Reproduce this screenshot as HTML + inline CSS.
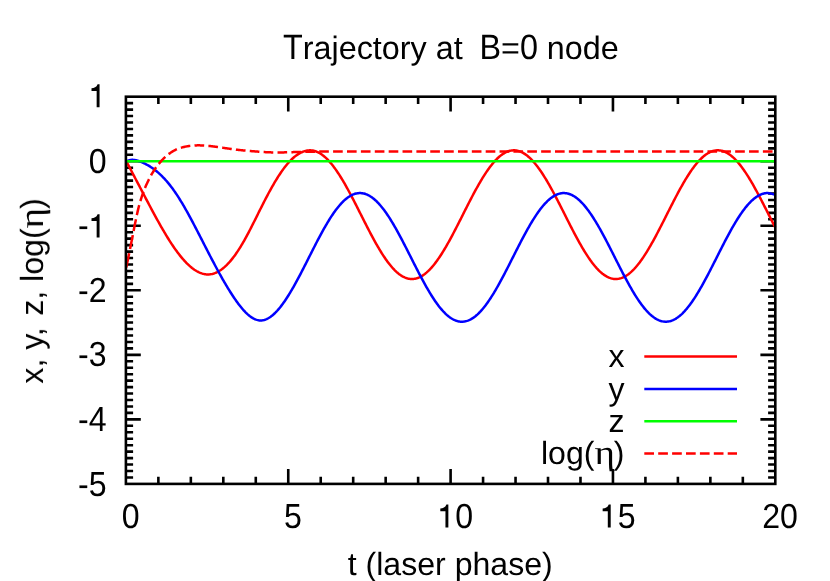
<!DOCTYPE html>
<html><head><meta charset="utf-8"><title>Trajectory at B=0 node</title>
<style>html,body{margin:0;padding:0;background:#fff;}body{width:830px;height:581px;overflow:hidden;font-family:"Liberation Sans",sans-serif;}</style>
</head><body>
<svg width="830" height="581" viewBox="0 0 830 581" style="display:block">
<rect width="830" height="581" fill="#fff"/>
<g stroke="#000" stroke-width="2.6" fill="none" stroke-linecap="butt">
<path d="M158.37,483.9 V476.70 M158.37,96.7 V103.90 M190.84,483.9 V476.70 M190.84,96.7 V103.90 M223.31,483.9 V476.70 M223.31,96.7 V103.90 M255.78,483.9 V476.70 M255.78,96.7 V103.90 M288.25,483.9 V469.00 M288.25,96.7 V111.60 M320.72,483.9 V476.70 M320.72,96.7 V103.90 M353.19,483.9 V476.70 M353.19,96.7 V103.90 M385.66,483.9 V476.70 M385.66,96.7 V103.90 M418.13,483.9 V476.70 M418.13,96.7 V103.90 M450.60,483.9 V469.00 M450.60,96.7 V111.60 M483.07,483.9 V476.70 M483.07,96.7 V103.90 M515.54,483.9 V476.70 M515.54,96.7 V103.90 M548.01,483.9 V476.70 M548.01,96.7 V103.90 M580.48,483.9 V476.70 M580.48,96.7 V103.90 M612.95,483.9 V469.00 M612.95,96.7 V111.60 M645.42,483.9 V476.70 M645.42,96.7 V103.90 M677.89,483.9 V476.70 M677.89,96.7 V103.90 M710.36,483.9 V476.70 M710.36,96.7 V103.90 M742.83,483.9 V476.70 M742.83,96.7 V103.90 M125.9,103.15 H133.10 M775.3,103.15 H768.10 M125.9,109.61 H133.10 M775.3,109.61 H768.10 M125.9,116.06 H133.10 M775.3,116.06 H768.10 M125.9,122.51 H133.10 M775.3,122.51 H768.10 M125.9,128.97 H133.10 M775.3,128.97 H768.10 M125.9,135.42 H133.10 M775.3,135.42 H768.10 M125.9,141.87 H133.10 M775.3,141.87 H768.10 M125.9,148.33 H133.10 M775.3,148.33 H768.10 M125.9,154.78 H133.10 M775.3,154.78 H768.10 M125.9,161.23 H140.80 M775.3,161.23 H760.40 M125.9,167.69 H133.10 M775.3,167.69 H768.10 M125.9,174.14 H133.10 M775.3,174.14 H768.10 M125.9,180.59 H133.10 M775.3,180.59 H768.10 M125.9,187.05 H133.10 M775.3,187.05 H768.10 M125.9,193.50 H133.10 M775.3,193.50 H768.10 M125.9,199.95 H133.10 M775.3,199.95 H768.10 M125.9,206.41 H133.10 M775.3,206.41 H768.10 M125.9,212.86 H133.10 M775.3,212.86 H768.10 M125.9,219.31 H133.10 M775.3,219.31 H768.10 M125.9,225.77 H140.80 M775.3,225.77 H760.40 M125.9,232.22 H133.10 M775.3,232.22 H768.10 M125.9,238.67 H133.10 M775.3,238.67 H768.10 M125.9,245.13 H133.10 M775.3,245.13 H768.10 M125.9,251.58 H133.10 M775.3,251.58 H768.10 M125.9,258.03 H133.10 M775.3,258.03 H768.10 M125.9,264.49 H133.10 M775.3,264.49 H768.10 M125.9,270.94 H133.10 M775.3,270.94 H768.10 M125.9,277.39 H133.10 M775.3,277.39 H768.10 M125.9,283.85 H133.10 M775.3,283.85 H768.10 M125.9,290.30 H140.80 M775.3,290.30 H760.40 M125.9,296.75 H133.10 M775.3,296.75 H768.10 M125.9,303.21 H133.10 M775.3,303.21 H768.10 M125.9,309.66 H133.10 M775.3,309.66 H768.10 M125.9,316.11 H133.10 M775.3,316.11 H768.10 M125.9,322.57 H133.10 M775.3,322.57 H768.10 M125.9,329.02 H133.10 M775.3,329.02 H768.10 M125.9,335.47 H133.10 M775.3,335.47 H768.10 M125.9,341.93 H133.10 M775.3,341.93 H768.10 M125.9,348.38 H133.10 M775.3,348.38 H768.10 M125.9,354.83 H140.80 M775.3,354.83 H760.40 M125.9,361.29 H133.10 M775.3,361.29 H768.10 M125.9,367.74 H133.10 M775.3,367.74 H768.10 M125.9,374.19 H133.10 M775.3,374.19 H768.10 M125.9,380.65 H133.10 M775.3,380.65 H768.10 M125.9,387.10 H133.10 M775.3,387.10 H768.10 M125.9,393.55 H133.10 M775.3,393.55 H768.10 M125.9,400.01 H133.10 M775.3,400.01 H768.10 M125.9,406.46 H133.10 M775.3,406.46 H768.10 M125.9,412.91 H133.10 M775.3,412.91 H768.10 M125.9,419.37 H140.80 M775.3,419.37 H760.40 M125.9,425.82 H133.10 M775.3,425.82 H768.10 M125.9,432.27 H133.10 M775.3,432.27 H768.10 M125.9,438.73 H133.10 M775.3,438.73 H768.10 M125.9,445.18 H133.10 M775.3,445.18 H768.10 M125.9,451.63 H133.10 M775.3,451.63 H768.10 M125.9,458.09 H133.10 M775.3,458.09 H768.10 M125.9,464.54 H133.10 M775.3,464.54 H768.10 M125.9,470.99 H133.10 M775.3,470.99 H768.10 M125.9,477.45 H133.10 M775.3,477.45 H768.10"/>
</g>
<g fill="none" stroke-width="2.5" stroke-linejoin="round" stroke-linecap="butt">
<path d="M126.30,161.23 L127.11,162.78 L127.92,164.32 L128.73,165.86 L129.54,167.41 L130.36,168.95 L131.17,170.49 L131.98,172.04 L132.79,173.58 L133.60,175.13 L134.41,176.67 L135.22,178.21 L136.03,179.76 L136.85,181.30 L137.66,182.85 L138.47,184.39 L139.28,185.94 L140.09,187.48 L140.90,189.03 L141.71,190.57 L142.53,192.12 L143.34,193.67 L144.15,195.21 L144.96,196.76 L145.77,198.30 L146.58,199.85 L147.39,201.39 L148.20,202.93 L149.01,204.47 L149.83,206.00 L150.64,207.53 L151.45,209.05 L152.26,210.57 L153.07,212.08 L153.88,213.59 L154.69,215.09 L155.50,216.58 L156.32,218.07 L157.13,219.54 L157.94,221.01 L158.75,222.47 L159.56,223.92 L160.37,225.35 L161.18,226.78 L162.00,228.20 L162.81,229.60 L163.62,230.99 L164.43,232.37 L165.24,233.73 L166.05,235.08 L166.86,236.42 L167.67,237.74 L168.49,239.04 L169.30,240.33 L170.11,241.60 L170.92,242.85 L171.73,244.09 L172.54,245.31 L173.35,246.51 L174.16,247.69 L174.97,248.85 L175.79,249.99 L176.60,251.10 L177.41,252.20 L178.22,253.28 L179.03,254.33 L179.84,255.37 L180.65,256.38 L181.47,257.36 L182.28,258.33 L183.09,259.27 L183.90,260.18 L184.71,261.07 L185.52,261.94 L186.33,262.78 L187.14,263.60 L187.96,264.39 L188.77,265.15 L189.58,265.88 L190.39,266.59 L191.20,267.27 L192.01,267.93 L192.82,268.55 L193.63,269.14 L194.44,269.71 L195.26,270.25 L196.07,270.75 L196.88,271.23 L197.69,271.67 L198.50,272.09 L199.31,272.47 L200.12,272.82 L200.94,273.13 L201.75,273.42 L202.56,273.67 L203.37,273.88 L204.18,274.07 L204.99,274.21 L205.80,274.33 L206.61,274.41 L207.43,274.45 L208.24,274.46 L209.05,274.42 L209.86,274.36 L210.67,274.25 L211.48,274.11 L212.29,273.94 L213.10,273.73 L213.92,273.48 L214.73,273.19 L215.54,272.87 L216.35,272.52 L217.16,272.13 L217.97,271.71 L218.78,271.25 L219.59,270.75 L220.41,270.23 L221.22,269.67 L222.03,269.07 L222.84,268.44 L223.65,267.78 L224.46,267.09 L225.27,266.36 L226.08,265.60 L226.89,264.80 L227.71,263.98 L228.52,263.12 L229.33,262.23 L230.14,261.31 L230.95,260.36 L231.76,259.38 L232.57,258.36 L233.38,257.32 L234.20,256.24 L235.01,255.14 L235.82,254.00 L236.63,252.83 L237.44,251.64 L238.25,250.41 L239.06,249.16 L239.88,247.88 L240.69,246.56 L241.50,245.22 L242.31,243.85 L243.12,242.46 L243.93,241.04 L244.74,239.59 L245.55,238.13 L246.37,236.64 L247.18,235.14 L247.99,233.61 L248.80,232.07 L249.61,230.52 L250.42,228.95 L251.23,227.37 L252.04,225.77 L252.86,224.17 L253.67,222.56 L254.48,220.95 L255.29,219.32 L256.10,217.70 L256.91,216.07 L257.72,214.44 L258.53,212.81 L259.35,211.18 L260.16,209.56 L260.97,207.94 L261.78,206.32 L262.59,204.72 L263.40,203.12 L264.21,201.53 L265.02,199.96 L265.83,198.39 L266.65,196.84 L267.46,195.31 L268.27,193.78 L269.08,192.28 L269.89,190.79 L270.70,189.32 L271.51,187.86 L272.32,186.43 L273.14,185.01 L273.95,183.61 L274.76,182.23 L275.57,180.88 L276.38,179.54 L277.19,178.23 L278.00,176.94 L278.81,175.68 L279.63,174.44 L280.44,173.22 L281.25,172.03 L282.06,170.87 L282.87,169.73 L283.68,168.62 L284.49,167.54 L285.31,166.49 L286.12,165.47 L286.93,164.48 L287.74,163.52 L288.55,162.59 L289.36,161.70 L290.17,160.83 L290.98,160.01 L291.80,159.21 L292.61,158.46 L293.42,157.73 L294.23,157.04 L295.04,156.38 L295.85,155.76 L296.66,155.18 L297.47,154.62 L298.29,154.10 L299.10,153.62 L299.91,153.16 L300.72,152.74 L301.53,152.36 L302.34,152.01 L303.15,151.69 L303.96,151.40 L304.77,151.15 L305.59,150.93 L306.40,150.74 L307.21,150.59 L308.02,150.48 L308.83,150.40 L309.64,150.36 L310.45,150.36 L311.26,150.39 L312.08,150.47 L312.89,150.59 L313.70,150.75 L314.51,150.95 L315.32,151.19 L316.13,151.48 L316.94,151.80 L317.75,152.16 L318.57,152.57 L319.38,153.01 L320.19,153.49 L321.00,154.01 L321.81,154.57 L322.62,155.16 L323.43,155.79 L324.25,156.46 L325.06,157.16 L325.87,157.90 L326.68,158.67 L327.49,159.48 L328.30,160.33 L329.11,161.20 L329.92,162.12 L330.74,163.06 L331.55,164.04 L332.36,165.04 L333.17,166.08 L333.98,167.15 L334.79,168.25 L335.60,169.38 L336.41,170.54 L337.23,171.72 L338.04,172.93 L338.85,174.17 L339.66,175.43 L340.47,176.72 L341.28,178.03 L342.09,179.36 L342.90,180.72 L343.72,182.10 L344.53,183.49 L345.34,184.91 L346.15,186.35 L346.96,187.80 L347.77,189.27 L348.58,190.75 L349.39,192.26 L350.21,193.77 L351.02,195.30 L351.83,196.84 L352.64,198.39 L353.45,199.95 L354.26,201.52 L355.07,203.10 L355.88,204.68 L356.70,206.28 L357.51,207.87 L358.32,209.47 L359.13,211.08 L359.94,212.69 L360.75,214.29 L361.56,215.90 L362.37,217.51 L363.19,219.12 L364.00,220.72 L364.81,222.32 L365.62,223.91 L366.43,225.50 L367.24,227.08 L368.05,228.66 L368.86,230.22 L369.68,231.78 L370.49,233.32 L371.30,234.86 L372.11,236.38 L372.92,237.89 L373.73,239.38 L374.54,240.86 L375.35,242.32 L376.17,243.76 L376.98,245.19 L377.79,246.59 L378.60,247.98 L379.41,249.34 L380.22,250.69 L381.03,252.01 L381.84,253.31 L382.66,254.58 L383.47,255.83 L384.28,257.05 L385.09,258.25 L385.90,259.42 L386.71,260.56 L387.52,261.67 L388.33,262.76 L389.14,263.81 L389.96,264.83 L390.77,265.82 L391.58,266.78 L392.39,267.71 L393.20,268.60 L394.01,269.46 L394.82,270.29 L395.64,271.08 L396.45,271.84 L397.26,272.56 L398.07,273.24 L398.88,273.89 L399.69,274.50 L400.50,275.07 L401.31,275.61 L402.12,276.10 L402.94,276.56 L403.75,276.98 L404.56,277.36 L405.37,277.70 L406.18,278.01 L406.99,278.27 L407.80,278.49 L408.62,278.67 L409.43,278.82 L410.24,278.92 L411.05,278.98 L411.86,279.01 L412.67,278.99 L413.48,278.93 L414.29,278.83 L415.11,278.69 L415.92,278.52 L416.73,278.30 L417.54,278.04 L418.35,277.74 L419.16,277.41 L419.97,277.03 L420.78,276.62 L421.59,276.16 L422.41,275.67 L423.22,275.14 L424.03,274.57 L424.84,273.97 L425.65,273.33 L426.46,272.65 L427.27,271.93 L428.09,271.18 L428.90,270.39 L429.71,269.57 L430.52,268.72 L431.33,267.83 L432.14,266.90 L432.95,265.95 L433.76,264.96 L434.57,263.94 L435.39,262.89 L436.20,261.81 L437.01,260.70 L437.82,259.57 L438.63,258.40 L439.44,257.21 L440.25,255.99 L441.07,254.74 L441.88,253.47 L442.69,252.18 L443.50,250.86 L444.31,249.52 L445.12,248.15 L445.93,246.77 L446.74,245.37 L447.56,243.94 L448.37,242.50 L449.18,241.04 L449.99,239.57 L450.80,238.08 L451.61,236.57 L452.42,235.05 L453.23,233.52 L454.05,231.98 L454.86,230.42 L455.67,228.86 L456.48,227.28 L457.29,225.70 L458.10,224.12 L458.91,222.52 L459.72,220.92 L460.54,219.32 L461.35,217.71 L462.16,216.11 L462.97,214.50 L463.78,212.89 L464.59,211.28 L465.40,209.68 L466.21,208.08 L467.03,206.48 L467.84,204.89 L468.65,203.30 L469.46,201.72 L470.27,200.15 L471.08,198.59 L471.89,197.03 L472.70,195.49 L473.52,193.96 L474.33,192.45 L475.14,190.94 L475.95,189.46 L476.76,187.99 L477.57,186.53 L478.38,185.09 L479.19,183.67 L480.01,182.27 L480.82,180.89 L481.63,179.54 L482.44,178.20 L483.25,176.89 L484.06,175.60 L484.87,174.33 L485.68,173.09 L486.50,171.88 L487.31,170.69 L488.12,169.53 L488.93,168.40 L489.74,167.29 L490.55,166.22 L491.36,165.18 L492.17,164.16 L492.99,163.18 L493.80,162.23 L494.61,161.32 L495.42,160.44 L496.23,159.59 L497.04,158.77 L497.85,157.99 L498.66,157.25 L499.48,156.54 L500.29,155.87 L501.10,155.24 L501.91,154.64 L502.72,154.08 L503.53,153.56 L504.34,153.07 L505.15,152.63 L505.97,152.22 L506.78,151.85 L507.59,151.52 L508.40,151.24 L509.21,150.99 L510.02,150.78 L510.83,150.61 L511.64,150.48 L512.46,150.39 L513.27,150.34 L514.08,150.33 L514.89,150.36 L515.70,150.43 L516.51,150.54 L517.32,150.69 L518.13,150.89 L518.95,151.12 L519.76,151.39 L520.57,151.70 L521.38,152.05 L522.19,152.44 L523.00,152.87 L523.81,153.33 L524.62,153.84 L525.44,154.38 L526.25,154.96 L527.06,155.58 L527.87,156.23 L528.68,156.93 L529.49,157.65 L530.30,158.42 L531.11,159.21 L531.92,160.05 L532.74,160.91 L533.55,161.81 L534.36,162.75 L535.17,163.71 L535.98,164.71 L536.79,165.74 L537.60,166.80 L538.42,167.89 L539.23,169.01 L540.04,170.16 L540.85,171.33 L541.66,172.53 L542.47,173.76 L543.28,175.02 L544.09,176.30 L544.90,177.60 L545.72,178.93 L546.53,180.27 L547.34,181.64 L548.15,183.03 L548.96,184.44 L549.77,185.87 L550.58,187.32 L551.40,188.79 L552.21,190.27 L553.02,191.76 L553.83,193.27 L554.64,194.80 L555.45,196.33 L556.26,197.88 L557.07,199.44 L557.88,201.00 L558.70,202.58 L559.51,204.16 L560.32,205.75 L561.13,207.35 L561.94,208.95 L562.75,210.55 L563.56,212.16 L564.38,213.77 L565.19,215.38 L566.00,216.98 L566.81,218.59 L567.62,220.19 L568.43,221.80 L569.24,223.39 L570.05,224.98 L570.87,226.57 L571.68,228.14 L572.49,229.71 L573.30,231.27 L574.11,232.82 L574.92,234.36 L575.73,235.88 L576.54,237.39 L577.36,238.89 L578.17,240.37 L578.98,241.84 L579.79,243.29 L580.60,244.72 L581.41,246.13 L582.22,247.53 L583.03,248.90 L583.85,250.25 L584.66,251.58 L585.47,252.88 L586.28,254.17 L587.09,255.42 L587.90,256.66 L588.71,257.86 L589.52,259.04 L590.34,260.19 L591.15,261.31 L591.96,262.41 L592.77,263.47 L593.58,264.50 L594.39,265.50 L595.20,266.47 L596.01,267.41 L596.82,268.32 L597.64,269.19 L598.45,270.02 L599.26,270.83 L600.07,271.59 L600.88,272.32 L601.69,273.02 L602.50,273.68 L603.32,274.30 L604.13,274.89 L604.94,275.43 L605.75,275.94 L606.56,276.42 L607.37,276.85 L608.18,277.24 L608.99,277.60 L609.80,277.91 L610.62,278.19 L611.43,278.42 L612.24,278.62 L613.05,278.78 L613.86,278.89 L614.67,278.97 L615.48,279.00 L616.30,279.00 L617.11,278.95 L617.92,278.87 L618.73,278.74 L619.54,278.58 L620.35,278.38 L621.16,278.13 L621.97,277.85 L622.78,277.52 L623.60,277.16 L624.41,276.76 L625.22,276.32 L626.03,275.84 L626.84,275.32 L627.65,274.76 L628.46,274.17 L629.27,273.54 L630.09,272.87 L630.90,272.17 L631.71,271.43 L632.52,270.65 L633.33,269.84 L634.14,269.00 L634.95,268.12 L635.76,267.21 L636.58,266.26 L637.39,265.29 L638.20,264.28 L639.01,263.24 L639.82,262.17 L640.63,261.07 L641.44,259.94 L642.25,258.78 L643.07,257.60 L643.88,256.39 L644.69,255.15 L645.50,253.89 L646.31,252.60 L647.12,251.29 L647.93,249.96 L648.75,248.60 L649.56,247.22 L650.37,245.83 L651.18,244.41 L651.99,242.97 L652.80,241.52 L653.61,240.05 L654.42,238.57 L655.24,237.07 L656.05,235.55 L656.86,234.02 L657.67,232.48 L658.48,230.93 L659.29,229.37 L660.10,227.80 L660.91,226.22 L661.72,224.64 L662.54,223.04 L663.35,221.45 L664.16,219.85 L664.97,218.24 L665.78,216.63 L666.59,215.03 L667.40,213.42 L668.21,211.81 L669.03,210.20 L669.84,208.60 L670.65,207.00 L671.46,205.41 L672.27,203.82 L673.08,202.24 L673.89,200.66 L674.71,199.10 L675.52,197.54 L676.33,196.00 L677.14,194.46 L677.95,192.94 L678.76,191.44 L679.57,189.94 L680.38,188.47 L681.20,187.01 L682.01,185.56 L682.82,184.14 L683.63,182.73 L684.44,181.34 L685.25,179.98 L686.06,178.63 L686.87,177.31 L687.68,176.02 L688.50,174.74 L689.31,173.49 L690.12,172.27 L690.93,171.07 L691.74,169.90 L692.55,168.76 L693.36,167.65 L694.17,166.57 L694.99,165.51 L695.80,164.49 L696.61,163.50 L697.42,162.54 L698.23,161.62 L699.04,160.72 L699.85,159.86 L700.66,159.04 L701.48,158.25 L702.29,157.49 L703.10,156.77 L703.91,156.09 L704.72,155.44 L705.53,154.83 L706.34,154.26 L707.16,153.72 L707.97,153.23 L708.78,152.77 L709.59,152.35 L710.40,151.97 L711.21,151.63 L712.02,151.33 L712.83,151.06 L713.64,150.84 L714.46,150.66 L715.27,150.52 L716.08,150.41 L716.89,150.35 L717.70,150.33 L718.51,150.35 L719.32,150.40 L720.13,150.50 L720.95,150.64 L721.76,150.82 L722.57,151.04 L723.38,151.30 L724.19,151.59 L725.00,151.93 L725.81,152.31 L726.62,152.72 L727.44,153.17 L728.25,153.67 L729.06,154.20 L729.87,154.77 L730.68,155.37 L731.49,156.02 L732.30,156.69 L733.11,157.41 L733.93,158.16 L734.74,158.95 L735.55,159.77 L736.36,160.63 L737.17,161.52 L737.98,162.44 L738.79,163.39 L739.61,164.38 L740.42,165.40 L741.23,166.45 L742.04,167.53 L742.85,168.64 L743.66,169.78 L744.47,170.94 L745.28,172.14 L746.10,173.36 L746.91,174.60 L747.72,175.88 L748.53,177.17 L749.34,178.49 L750.15,179.83 L750.96,181.19 L751.77,182.58 L752.59,183.98 L753.40,185.40 L754.21,186.84 L755.02,188.30 L755.83,189.78 L756.64,191.27 L757.45,192.77 L758.26,194.29 L759.07,195.83 L759.89,197.37 L760.70,198.93 L761.51,200.50 L762.32,202.07 L763.13,203.65 L763.94,205.24 L764.75,206.84 L765.57,208.43 L766.38,210.03 L767.19,211.63 L768.00,213.23 L768.81,214.83 L769.62,216.43 L770.43,218.03 L771.24,219.63 L772.06,221.23 L772.87,222.83 L773.68,224.43 L774.49,226.03 L775.30,227.63" stroke="#ff0000"/>
<path d="M126.30,161.23 L127.11,160.96 L127.92,160.70 L128.73,160.46 L129.54,160.24 L130.36,160.07 L131.17,159.94 L131.98,159.87 L132.79,159.86 L133.60,159.89 L134.41,159.97 L135.22,160.10 L136.03,160.27 L136.85,160.47 L137.66,160.70 L138.47,160.96 L139.28,161.25 L140.09,161.55 L140.90,161.88 L141.71,162.22 L142.53,162.57 L143.34,162.94 L144.15,163.32 L144.96,163.71 L145.77,164.12 L146.58,164.55 L147.39,164.99 L148.20,165.45 L149.01,165.93 L149.83,166.43 L150.64,166.94 L151.45,167.47 L152.26,168.02 L153.07,168.59 L153.88,169.18 L154.69,169.79 L155.50,170.41 L156.32,171.06 L157.13,171.73 L157.94,172.42 L158.75,173.14 L159.56,173.87 L160.37,174.62 L161.18,175.40 L162.00,176.20 L162.81,177.02 L163.62,177.86 L164.43,178.72 L165.24,179.61 L166.05,180.51 L166.86,181.44 L167.67,182.40 L168.49,183.37 L169.30,184.37 L170.11,185.39 L170.92,186.44 L171.73,187.51 L172.54,188.60 L173.35,189.71 L174.16,190.85 L174.97,192.02 L175.79,193.20 L176.60,194.41 L177.41,195.65 L178.22,196.90 L179.03,198.18 L179.84,199.48 L180.65,200.79 L181.47,202.13 L182.28,203.48 L183.09,204.86 L183.90,206.24 L184.71,207.65 L185.52,209.07 L186.33,210.51 L187.14,211.96 L187.96,213.42 L188.77,214.90 L189.58,216.39 L190.39,217.89 L191.20,219.40 L192.01,220.92 L192.82,222.45 L193.63,223.99 L194.44,225.53 L195.26,227.09 L196.07,228.65 L196.88,230.21 L197.69,231.78 L198.50,233.36 L199.31,234.94 L200.12,236.52 L200.94,238.10 L201.75,239.69 L202.56,241.27 L203.37,242.86 L204.18,244.45 L204.99,246.03 L205.80,247.61 L206.61,249.19 L207.43,250.77 L208.24,252.34 L209.05,253.91 L209.86,255.48 L210.67,257.03 L211.48,258.59 L212.29,260.14 L213.10,261.68 L213.92,263.21 L214.73,264.74 L215.54,266.26 L216.35,267.77 L217.16,269.28 L217.97,270.77 L218.78,272.25 L219.59,273.73 L220.41,275.19 L221.22,276.64 L222.03,278.08 L222.84,279.51 L223.65,280.93 L224.46,282.33 L225.27,283.72 L226.08,285.09 L226.89,286.45 L227.71,287.80 L228.52,289.13 L229.33,290.44 L230.14,291.74 L230.95,293.02 L231.76,294.28 L232.57,295.53 L233.38,296.75 L234.20,297.96 L235.01,299.15 L235.82,300.32 L236.63,301.46 L237.44,302.58 L238.25,303.68 L239.06,304.75 L239.88,305.80 L240.69,306.82 L241.50,307.81 L242.31,308.77 L243.12,309.70 L243.93,310.60 L244.74,311.47 L245.55,312.31 L246.37,313.11 L247.18,313.87 L247.99,314.60 L248.80,315.29 L249.61,315.94 L250.42,316.56 L251.23,317.13 L252.04,317.66 L252.86,318.15 L253.67,318.59 L254.48,318.99 L255.29,319.34 L256.10,319.65 L256.91,319.91 L257.72,320.12 L258.53,320.28 L259.35,320.39 L260.16,320.44 L260.97,320.45 L261.78,320.40 L262.59,320.30 L263.40,320.15 L264.21,319.96 L265.02,319.71 L265.83,319.42 L266.65,319.08 L267.46,318.69 L268.27,318.26 L269.08,317.78 L269.89,317.26 L270.70,316.70 L271.51,316.10 L272.32,315.45 L273.14,314.77 L273.95,314.04 L274.76,313.28 L275.57,312.48 L276.38,311.64 L277.19,310.77 L278.00,309.86 L278.81,308.92 L279.63,307.94 L280.44,306.93 L281.25,305.89 L282.06,304.82 L282.87,303.72 L283.68,302.59 L284.49,301.43 L285.31,300.24 L286.12,299.03 L286.93,297.79 L287.74,296.52 L288.55,295.23 L289.36,293.92 L290.17,292.59 L290.98,291.23 L291.80,289.85 L292.61,288.45 L293.42,287.04 L294.23,285.60 L295.04,284.15 L295.85,282.68 L296.66,281.19 L297.47,279.69 L298.29,278.18 L299.10,276.65 L299.91,275.11 L300.72,273.56 L301.53,272.00 L302.34,270.43 L303.15,268.85 L303.96,267.27 L304.77,265.67 L305.59,264.08 L306.40,262.48 L307.21,260.87 L308.02,259.27 L308.83,257.66 L309.64,256.05 L310.45,254.44 L311.26,252.84 L312.08,251.24 L312.89,249.64 L313.70,248.05 L314.51,246.46 L315.32,244.88 L316.13,243.30 L316.94,241.74 L317.75,240.19 L318.57,238.64 L319.38,237.11 L320.19,235.59 L321.00,234.09 L321.81,232.59 L322.62,231.12 L323.43,229.66 L324.25,228.22 L325.06,226.80 L325.87,225.39 L326.68,224.01 L327.49,222.64 L328.30,221.30 L329.11,219.98 L329.92,218.69 L330.74,217.41 L331.55,216.17 L332.36,214.95 L333.17,213.75 L333.98,212.58 L334.79,211.45 L335.60,210.34 L336.41,209.25 L337.23,208.20 L338.04,207.18 L338.85,206.19 L339.66,205.24 L340.47,204.31 L341.28,203.42 L342.09,202.56 L342.90,201.74 L343.72,200.95 L344.53,200.20 L345.34,199.48 L346.15,198.80 L346.96,198.16 L347.77,197.55 L348.58,196.98 L349.39,196.45 L350.21,195.95 L351.02,195.50 L351.83,195.08 L352.64,194.70 L353.45,194.36 L354.26,194.06 L355.07,193.80 L355.88,193.58 L356.70,193.40 L357.51,193.26 L358.32,193.16 L359.13,193.10 L359.94,193.08 L360.75,193.10 L361.56,193.16 L362.37,193.26 L363.19,193.40 L364.00,193.58 L364.81,193.80 L365.62,194.06 L366.43,194.36 L367.24,194.70 L368.05,195.08 L368.86,195.50 L369.68,195.95 L370.49,196.45 L371.30,196.98 L372.11,197.55 L372.92,198.16 L373.73,198.80 L374.54,199.48 L375.35,200.20 L376.17,200.95 L376.98,201.74 L377.79,202.56 L378.60,203.42 L379.41,204.31 L380.22,205.24 L381.03,206.19 L381.84,207.18 L382.66,208.20 L383.47,209.25 L384.28,210.34 L385.09,211.45 L385.90,212.58 L386.71,213.75 L387.52,214.95 L388.33,216.17 L389.14,217.41 L389.96,218.69 L390.77,219.98 L391.58,221.30 L392.39,222.64 L393.20,224.01 L394.01,225.39 L394.82,226.79 L395.64,228.22 L396.45,229.66 L397.26,231.12 L398.07,232.59 L398.88,234.09 L399.69,235.59 L400.50,237.11 L401.31,238.64 L402.12,240.19 L402.94,241.74 L403.75,243.30 L404.56,244.88 L405.37,246.46 L406.18,248.05 L406.99,249.64 L407.80,251.24 L408.62,252.84 L409.43,254.44 L410.24,256.05 L411.05,257.66 L411.86,259.27 L412.67,260.87 L413.48,262.48 L414.29,264.08 L415.11,265.67 L415.92,267.27 L416.73,268.85 L417.54,270.43 L418.35,272.00 L419.16,273.56 L419.97,275.11 L420.78,276.65 L421.59,278.18 L422.41,279.69 L423.22,281.19 L424.03,282.68 L424.84,284.15 L425.65,285.60 L426.46,287.04 L427.27,288.46 L428.09,289.85 L428.90,291.23 L429.71,292.59 L430.52,293.92 L431.33,295.23 L432.14,296.52 L432.95,297.78 L433.76,299.02 L434.57,300.23 L435.39,301.42 L436.20,302.58 L437.01,303.71 L437.82,304.81 L438.63,305.88 L439.44,306.92 L440.25,307.93 L441.07,308.91 L441.88,309.85 L442.69,310.77 L443.50,311.65 L444.31,312.49 L445.12,313.30 L445.93,314.08 L446.74,314.82 L447.56,315.53 L448.37,316.20 L449.18,316.83 L449.99,317.42 L450.80,317.98 L451.61,318.50 L452.42,318.98 L453.23,319.42 L454.05,319.83 L454.86,320.19 L455.67,320.52 L456.48,320.80 L457.29,321.05 L458.10,321.26 L458.91,321.43 L459.72,321.55 L460.54,321.64 L461.35,321.69 L462.16,321.69 L462.97,321.66 L463.78,321.59 L464.59,321.47 L465.40,321.32 L466.21,321.12 L467.03,320.89 L467.84,320.62 L468.65,320.30 L469.46,319.95 L470.27,319.56 L471.08,319.13 L471.89,318.66 L472.70,318.15 L473.52,317.61 L474.33,317.03 L475.14,316.41 L475.95,315.75 L476.76,315.06 L477.57,314.33 L478.38,313.56 L479.19,312.76 L480.01,311.93 L480.82,311.06 L481.63,310.16 L482.44,309.22 L483.25,308.25 L484.06,307.25 L484.87,306.22 L485.68,305.16 L486.50,304.07 L487.31,302.95 L488.12,301.80 L488.93,300.63 L489.74,299.42 L490.55,298.19 L491.36,296.94 L492.17,295.66 L492.99,294.35 L493.80,293.03 L494.61,291.68 L495.42,290.31 L496.23,288.92 L497.04,287.50 L497.85,286.07 L498.66,284.63 L499.48,283.16 L500.29,281.68 L501.10,280.19 L501.91,278.68 L502.72,277.15 L503.53,275.62 L504.34,274.07 L505.15,272.51 L505.97,270.94 L506.78,269.37 L507.59,267.78 L508.40,266.20 L509.21,264.60 L510.02,263.00 L510.83,261.40 L511.64,259.79 L512.46,258.18 L513.27,256.58 L514.08,254.97 L514.89,253.36 L515.70,251.76 L516.51,250.16 L517.32,248.57 L518.13,246.98 L518.95,245.39 L519.76,243.82 L520.57,242.25 L521.38,240.69 L522.19,239.15 L523.00,237.61 L523.81,236.09 L524.62,234.58 L525.44,233.08 L526.25,231.60 L527.06,230.14 L527.87,228.69 L528.68,227.26 L529.49,225.85 L530.30,224.46 L531.11,223.09 L531.92,221.74 L532.74,220.41 L533.55,219.11 L534.36,217.83 L535.17,216.57 L535.98,215.34 L536.79,214.14 L537.60,212.96 L538.42,211.82 L539.23,210.70 L540.04,209.60 L540.85,208.54 L541.66,207.51 L542.47,206.51 L543.28,205.55 L544.09,204.61 L544.90,203.71 L545.72,202.84 L546.53,202.01 L547.34,201.21 L548.15,200.44 L548.96,199.71 L549.77,199.02 L550.58,198.36 L551.40,197.74 L552.21,197.16 L553.02,196.62 L553.83,196.11 L554.64,195.64 L555.45,195.21 L556.26,194.82 L557.07,194.47 L557.88,194.16 L558.70,193.88 L559.51,193.65 L560.32,193.46 L561.13,193.30 L561.94,193.19 L562.75,193.12 L563.56,193.08 L564.38,193.09 L565.19,193.14 L566.00,193.22 L566.81,193.35 L567.62,193.52 L568.43,193.73 L569.24,193.97 L570.05,194.26 L570.87,194.59 L571.68,194.95 L572.49,195.36 L573.30,195.80 L574.11,196.28 L574.92,196.80 L575.73,197.36 L576.54,197.95 L577.36,198.59 L578.17,199.26 L578.98,199.96 L579.79,200.70 L580.60,201.48 L581.41,202.29 L582.22,203.14 L583.03,204.02 L583.85,204.93 L584.66,205.88 L585.47,206.86 L586.28,207.87 L587.09,208.91 L587.90,209.98 L588.71,211.08 L589.52,212.21 L590.34,213.37 L591.15,214.55 L591.96,215.76 L592.77,217.00 L593.58,218.27 L594.39,219.55 L595.20,220.87 L596.01,222.20 L596.82,223.56 L597.64,224.93 L598.45,226.33 L599.26,227.75 L600.07,229.19 L600.88,230.64 L601.69,232.11 L602.50,233.60 L603.32,235.10 L604.13,236.61 L604.94,238.14 L605.75,239.68 L606.56,241.23 L607.37,242.79 L608.18,244.36 L608.99,245.94 L609.80,247.53 L610.62,249.12 L611.43,250.71 L612.24,252.31 L613.05,253.92 L613.86,255.52 L614.67,257.13 L615.48,258.74 L616.30,260.35 L617.11,261.95 L617.92,263.55 L618.73,265.15 L619.54,266.74 L620.35,268.33 L621.16,269.91 L621.97,271.49 L622.78,273.05 L623.60,274.60 L624.41,276.15 L625.22,277.68 L626.03,279.20 L626.84,280.70 L627.65,282.19 L628.46,283.67 L629.27,285.13 L630.09,286.57 L630.90,287.99 L631.71,289.40 L632.52,290.78 L633.33,292.15 L634.14,293.49 L634.95,294.81 L635.76,296.10 L636.58,297.37 L637.39,298.62 L638.20,299.84 L639.01,301.03 L639.82,302.20 L640.63,303.34 L641.44,304.45 L642.25,305.53 L643.07,306.58 L643.88,307.60 L644.69,308.59 L645.50,309.55 L646.31,310.47 L647.12,311.36 L647.93,312.22 L648.75,313.04 L649.56,313.83 L650.37,314.58 L651.18,315.30 L651.99,315.98 L652.80,316.62 L653.61,317.23 L654.42,317.80 L655.24,318.33 L656.05,318.83 L656.86,319.28 L657.67,319.70 L658.48,320.08 L659.29,320.42 L660.10,320.72 L660.91,320.98 L661.72,321.20 L662.54,321.38 L663.35,321.52 L664.16,321.62 L664.97,321.68 L665.78,321.69 L666.59,321.67 L667.40,321.61 L668.21,321.51 L669.03,321.37 L669.84,321.19 L670.65,320.97 L671.46,320.71 L672.27,320.41 L673.08,320.07 L673.89,319.69 L674.71,319.27 L675.52,318.82 L676.33,318.32 L677.14,317.79 L677.95,317.22 L678.76,316.61 L679.57,315.97 L680.38,315.29 L681.20,314.57 L682.01,313.82 L682.82,313.03 L683.63,312.20 L684.44,311.35 L685.25,310.46 L686.06,309.53 L686.87,308.57 L687.68,307.58 L688.50,306.56 L689.31,305.51 L690.12,304.43 L690.93,303.32 L691.74,302.18 L692.55,301.01 L693.36,299.82 L694.17,298.60 L694.99,297.35 L695.80,296.08 L696.61,294.78 L697.42,293.46 L698.23,292.12 L699.04,290.76 L699.85,289.37 L700.66,287.97 L701.48,286.54 L702.29,285.10 L703.10,283.64 L703.91,282.17 L704.72,280.68 L705.53,279.17 L706.34,277.65 L707.16,276.12 L707.97,274.58 L708.78,273.02 L709.59,271.46 L710.40,269.88 L711.21,268.30 L712.02,266.72 L712.83,265.12 L713.64,263.52 L714.46,261.92 L715.27,260.32 L716.08,258.71 L716.89,257.10 L717.70,255.50 L718.51,253.89 L719.32,252.29 L720.13,250.68 L720.95,249.09 L721.76,247.50 L722.57,245.91 L723.38,244.33 L724.19,242.76 L725.00,241.20 L725.81,239.65 L726.62,238.11 L727.44,236.58 L728.25,235.07 L729.06,233.57 L729.87,232.08 L730.68,230.61 L731.49,229.16 L732.30,227.72 L733.11,226.31 L733.93,224.91 L734.74,223.53 L735.55,222.18 L736.36,220.84 L737.17,219.53 L737.98,218.24 L738.79,216.98 L739.61,215.74 L740.42,214.53 L741.23,213.35 L742.04,212.19 L742.85,211.06 L743.66,209.96 L744.47,208.89 L745.28,207.85 L746.10,206.84 L746.91,205.86 L747.72,204.91 L748.53,204.00 L749.34,203.12 L750.15,202.27 L750.96,201.47 L751.77,200.69 L752.59,199.95 L753.40,199.25 L754.21,198.59 L755.02,197.96 L755.83,197.36 L756.64,196.81 L757.45,196.28 L758.26,195.80 L759.07,195.35 L759.89,194.94 L760.70,194.56 L761.51,194.22 L762.32,193.93 L763.13,193.67 L763.94,193.46 L764.75,193.30 L765.57,193.18 L766.38,193.11 L767.19,193.09 L768.00,193.12 L768.81,193.19 L769.62,193.31 L770.43,193.46 L771.24,193.64 L772.06,193.85 L772.87,194.07 L773.68,194.32 L774.49,194.57 L775.30,194.83" stroke="#0000ff"/>
<path d="M125.90,161.23 L775.30,161.23" stroke="#00ff00"/>
<path d="M126.30,267.39 L126.38,266.99 L127.03,263.82 L127.68,260.64 L128.33,257.45 L128.98,254.25 L129.19,253.18 M130.03,249.06 L130.03,249.02 L130.68,245.78 L131.33,242.52 L131.98,239.23 L132.63,235.90 L132.78,235.13 M133.59,230.99 L133.60,230.91 L134.25,227.61 L134.90,224.35 L135.55,221.14 L135.94,219.23 M136.82,215.11 L136.85,214.99 L137.50,212.11 L138.14,209.38 L138.79,206.79 L139.23,205.10 M140.38,201.05 L140.42,200.93 L141.06,198.81 L141.71,196.79 L142.36,194.90 L143.01,193.09 L143.45,191.90 M145.02,187.95 L145.04,187.90 L145.69,186.36 L146.34,184.87 L146.99,183.43 L147.64,182.02 L148.28,180.66 L148.93,179.35 L149.02,179.18 M151.01,175.43 L151.04,175.37 L151.69,174.22 L152.34,173.11 L152.99,172.04 L153.64,171.00 L154.29,170.00 L154.94,169.03 L155.59,168.08 L156.16,167.27 M158.74,163.90 L158.75,163.89 L159.40,163.10 L160.05,162.34 L160.70,161.60 L161.35,160.88 L162.00,160.17 L162.64,159.50 L163.29,158.83 L163.94,158.19 L164.59,157.57 L165.24,156.96 L165.34,156.87 M168.59,154.14 L168.65,154.10 L169.30,153.61 L169.95,153.15 L170.59,152.70 L171.24,152.27 L171.89,151.85 L172.54,151.45 L173.19,151.08 L173.84,150.72 L174.49,150.37 L175.14,150.04 L175.79,149.73 L176.44,149.44 L176.88,149.24 M180.86,147.79 L180.90,147.78 L181.55,147.58 L182.20,147.40 L182.84,147.23 L183.49,147.07 L184.14,146.91 L184.79,146.77 L185.44,146.63 L186.09,146.50 L186.74,146.38 L187.39,146.26 L188.04,146.16 L188.69,146.06 L189.33,145.97 L189.98,145.88 L190.30,145.84 M194.53,145.47 L194.61,145.46 L195.26,145.43 L195.91,145.41 L196.55,145.39 L197.20,145.37 L197.85,145.36 L198.50,145.36 L199.15,145.36 L199.80,145.37 L200.45,145.38 L201.10,145.40 L201.75,145.42 L202.40,145.45 L203.04,145.48 L203.69,145.51 L204.17,145.54 M208.41,145.89 L208.48,145.89 L209.13,145.96 L209.78,146.03 L210.43,146.10 L211.08,146.17 L211.72,146.25 L212.37,146.33 L213.02,146.41 L213.67,146.49 L214.32,146.57 L214.97,146.66 L215.62,146.75 L216.27,146.83 L216.92,146.92 L217.57,147.01 L217.98,147.07 M222.18,147.68 L222.19,147.68 L222.84,147.77 L223.49,147.87 L224.14,147.97 L224.79,148.06 L225.43,148.16 L226.08,148.25 L226.73,148.35 L227.38,148.44 L228.03,148.54 L228.68,148.63 L229.33,148.72 L229.98,148.81 L230.63,148.90 L231.28,148.99 L231.74,149.06 M235.95,149.60 L235.98,149.61 L236.63,149.69 L237.28,149.76 L237.93,149.84 L238.58,149.91 L239.23,149.99 L239.88,150.06 L240.52,150.13 L241.17,150.19 L241.82,150.26 L242.47,150.33 L243.12,150.39 L243.77,150.46 L244.42,150.52 L245.07,150.58 L245.54,150.62 M249.77,151.00 L249.77,151.00 L250.42,151.05 L251.07,151.10 L251.72,151.16 L252.37,151.21 L253.02,151.26 L253.67,151.31 L254.32,151.36 L254.96,151.41 L255.61,151.46 L256.26,151.51 L256.91,151.56 L257.56,151.61 L258.21,151.66 L258.86,151.70 L259.39,151.74 M263.63,152.02 L263.64,152.02 L264.29,152.06 L264.94,152.10 L265.59,152.13 L266.24,152.17 L266.89,152.20 L267.54,152.23 L268.19,152.26 L268.84,152.29 L269.49,152.31 L270.13,152.34 L270.78,152.36 L271.43,152.38 L272.08,152.40 L272.73,152.42 L273.27,152.43 M277.52,152.47 L277.52,152.47 L278.17,152.47 L278.81,152.47 L279.46,152.46 L280.11,152.45 L280.76,152.45 L281.41,152.44 L282.06,152.43 L282.71,152.41 L283.36,152.40 L284.01,152.39 L284.66,152.37 L285.31,152.35 L285.95,152.34 L286.60,152.32 L287.16,152.30 M291.41,152.18 L291.47,152.18 L292.12,152.16 L292.77,152.14 L293.42,152.12 L294.07,152.11 L294.72,152.09 L295.36,152.07 L296.01,152.05 L296.66,152.04 L297.31,152.02 L297.96,152.00 L298.61,151.99 L299.26,151.97 L299.91,151.95 L300.56,151.94 L301.05,151.92 M305.30,151.83 L305.34,151.82 L305.99,151.81 L306.64,151.80 L307.29,151.78 L307.94,151.77 L308.59,151.76 L309.24,151.74 L309.89,151.73 L310.53,151.72 L311.18,151.70 L311.83,151.69 L312.48,151.68 L313.13,151.67 L313.78,151.66 L314.43,151.65 L314.95,151.64 M319.19,151.58 L319.22,151.58 L319.86,151.57 L320.51,151.56 L321.16,151.55 L321.81,151.54 L322.46,151.54 L323.11,151.53 L323.76,151.52 L324.41,151.52 L325.06,151.51 L325.71,151.50 L326.35,151.50 L327.00,151.49 L327.65,151.49 L328.30,151.48 L328.84,151.48 M333.09,151.46 L333.17,151.46 L333.82,151.45 L334.47,151.45 L335.12,151.45 L335.76,151.44 L336.41,151.44 L337.06,151.44 L337.71,151.44 L338.36,151.44 L339.01,151.44 L339.66,151.43 L340.31,151.43 L340.96,151.43 L341.61,151.43 L342.25,151.43 L342.74,151.43 M346.98,151.43 L347.04,151.43 L347.69,151.42 L348.34,151.42 L348.99,151.42 L349.64,151.42 L350.29,151.42 L350.94,151.42 L351.58,151.42 L352.23,151.42 L352.88,151.42 L353.53,151.42 L354.18,151.42 L354.83,151.42 L355.48,151.42 L356.13,151.42 L356.63,151.42 M360.88,151.42 L360.91,151.42 L361.56,151.42 L362.21,151.42 L362.86,151.42 L363.51,151.42 L364.16,151.42 L364.81,151.42 L365.46,151.42 L366.11,151.42 L366.75,151.42 L367.40,151.42 L368.05,151.42 L368.70,151.42 L369.35,151.42 L370.00,151.42 L370.53,151.42 M374.78,151.42 L374.79,151.42 L375.43,151.42 L376.08,151.42 L376.73,151.42 L377.38,151.42 L378.03,151.42 L378.68,151.42 L379.33,151.42 L379.98,151.42 L380.63,151.42 L381.28,151.42 L381.92,151.42 L382.57,151.42 L383.22,151.42 L383.87,151.42 L384.43,151.42 M388.67,151.42 L388.74,151.42 L389.39,151.42 L390.04,151.42 L390.69,151.42 L391.34,151.42 L391.98,151.42 L392.63,151.42 L393.28,151.42 L393.93,151.42 L394.58,151.42 L395.23,151.42 L395.88,151.42 L396.53,151.42 L397.18,151.42 L397.83,151.42 L398.32,151.42 M402.53,151.42 L402.61,151.42 L403.26,151.42 L403.91,151.42 L404.56,151.42 L405.21,151.42 L405.86,151.42 L406.51,151.42 L407.15,151.42 L407.80,151.42 L408.45,151.42 L409.10,151.42 L409.75,151.42 L410.40,151.42 L411.05,151.42 L411.70,151.42 L412.18,151.42 M416.39,151.42 L416.40,151.42 L417.05,151.42 L417.70,151.42 L418.35,151.42 L419.00,151.42 L419.65,151.42 L420.30,151.42 L420.95,151.42 L421.59,151.42 L422.24,151.42 L422.89,151.42 L423.54,151.42 L424.19,151.42 L424.84,151.42 L425.49,151.42 L426.04,151.42 M430.25,151.42 L430.28,151.42 L430.92,151.42 L431.57,151.42 L432.22,151.42 L432.87,151.42 L433.52,151.42 L434.17,151.42 L434.82,151.42 L435.47,151.42 L436.12,151.42 L436.77,151.42 L437.41,151.42 L438.06,151.42 L438.71,151.42 L439.36,151.42 L439.90,151.42 M444.11,151.42 L444.15,151.42 L444.80,151.42 L445.45,151.42 L446.09,151.42 L446.74,151.42 L447.39,151.42 L448.04,151.42 L448.69,151.42 L449.34,151.42 L449.99,151.42 L450.64,151.42 L451.29,151.42 L451.94,151.42 L452.58,151.42 L453.23,151.42 L453.76,151.42 M457.97,151.42 L458.02,151.42 L458.67,151.42 L459.32,151.42 L459.97,151.42 L460.62,151.42 L461.27,151.42 L461.91,151.42 L462.56,151.42 L463.21,151.42 L463.86,151.42 L464.51,151.42 L465.16,151.42 L465.81,151.42 L466.46,151.42 L467.11,151.42 L467.62,151.42 M471.83,151.42 L471.89,151.42 L472.54,151.42 L473.19,151.42 L473.84,151.42 L474.49,151.42 L475.14,151.42 L475.79,151.42 L476.44,151.42 L477.08,151.42 L477.73,151.42 L478.38,151.42 L479.03,151.42 L479.68,151.42 L480.33,151.42 L480.98,151.42 L481.48,151.42 M485.69,151.42 L485.76,151.42 L486.41,151.42 L487.06,151.42 L487.71,151.42 L488.36,151.42 L489.01,151.42 L489.66,151.42 L490.31,151.42 L490.96,151.42 L491.61,151.42 L492.25,151.42 L492.90,151.42 L493.55,151.42 L494.20,151.42 L494.85,151.42 L495.34,151.42 M499.55,151.42 L499.56,151.42 L500.21,151.42 L500.85,151.42 L501.50,151.42 L502.15,151.42 L502.80,151.42 L503.45,151.42 L504.10,151.42 L504.75,151.42 L505.40,151.42 L506.05,151.42 L506.70,151.42 L507.34,151.42 L507.99,151.42 L508.64,151.42 L509.20,151.42 M513.41,151.42 L513.43,151.42 L514.08,151.42 L514.73,151.42 L515.38,151.42 L516.02,151.42 L516.67,151.42 L517.32,151.42 L517.97,151.42 L518.62,151.42 L519.27,151.42 L519.92,151.42 L520.57,151.42 L521.22,151.42 L521.87,151.42 L522.51,151.42 L523.06,151.42 M527.27,151.42 L527.30,151.42 L527.95,151.42 L528.60,151.42 L529.25,151.42 L529.90,151.42 L530.55,151.42 L531.19,151.42 L531.84,151.42 L532.49,151.42 L533.14,151.42 L533.79,151.42 L534.44,151.42 L535.09,151.42 L535.74,151.42 L536.39,151.42 L536.92,151.42 M541.13,151.42 L541.17,151.42 L541.82,151.42 L542.47,151.42 L543.12,151.42 L543.77,151.42 L544.42,151.42 L545.07,151.42 L545.72,151.42 L546.37,151.42 L547.01,151.42 L547.66,151.42 L548.31,151.42 L548.96,151.42 L549.61,151.42 L550.26,151.42 L550.78,151.42 M554.99,151.42 L555.05,151.42 L555.69,151.42 L556.34,151.42 L556.99,151.42 L557.64,151.42 L558.29,151.42 L558.94,151.42 L559.59,151.42 L560.24,151.42 L560.89,151.42 L561.54,151.42 L562.18,151.42 L562.83,151.42 L563.48,151.42 L564.13,151.42 L564.64,151.42 M568.85,151.42 L568.92,151.42 L569.57,151.42 L570.22,151.42 L570.87,151.42 L571.51,151.42 L572.16,151.42 L572.81,151.42 L573.46,151.42 L574.11,151.42 L574.76,151.42 L575.41,151.42 L576.06,151.42 L576.71,151.42 L577.36,151.42 L578.00,151.42 L578.50,151.42 M582.71,151.42 L582.79,151.42 L583.44,151.42 L584.09,151.42 L584.74,151.42 L585.39,151.42 L586.04,151.42 L586.68,151.42 L587.33,151.42 L587.98,151.42 L588.63,151.42 L589.28,151.42 L589.93,151.42 L590.58,151.42 L591.23,151.42 L591.88,151.42 L592.36,151.42 M596.57,151.42 L596.58,151.42 L597.23,151.42 L597.88,151.42 L598.53,151.42 L599.18,151.42 L599.83,151.42 L600.48,151.42 L601.12,151.42 L601.77,151.42 L602.42,151.42 L603.07,151.42 L603.72,151.42 L604.37,151.42 L605.02,151.42 L605.67,151.42 L606.22,151.42 M610.43,151.42 L610.45,151.42 L611.10,151.42 L611.75,151.42 L612.40,151.42 L613.05,151.42 L613.70,151.42 L614.35,151.42 L615.00,151.42 L615.65,151.42 L616.29,151.42 L616.94,151.42 L617.59,151.42 L618.24,151.42 L618.89,151.42 L619.54,151.42 L620.08,151.42 M624.29,151.42 L624.33,151.42 L624.98,151.42 L625.62,151.42 L626.27,151.42 L626.92,151.42 L627.57,151.42 L628.22,151.42 L628.87,151.42 L629.52,151.42 L630.17,151.42 L630.82,151.42 L631.47,151.42 L632.11,151.42 L632.76,151.42 L633.41,151.42 L633.94,151.42 M638.15,151.42 L638.20,151.42 L638.85,151.42 L639.50,151.42 L640.15,151.42 L640.79,151.42 L641.44,151.42 L642.09,151.42 L642.74,151.42 L643.39,151.42 L644.04,151.42 L644.69,151.42 L645.34,151.42 L645.99,151.42 L646.64,151.42 L647.28,151.42 L647.80,151.42 M652.01,151.42 L652.07,151.42 L652.72,151.42 L653.37,151.42 L654.02,151.42 L654.67,151.42 L655.32,151.42 L655.97,151.42 L656.61,151.42 L657.26,151.42 L657.91,151.42 L658.56,151.42 L659.21,151.42 L659.86,151.42 L660.51,151.42 L661.16,151.42 L661.66,151.42 M665.87,151.42 L665.94,151.42 L666.59,151.42 L667.24,151.42 L667.89,151.42 L668.54,151.42 L669.19,151.42 L669.84,151.42 L670.49,151.42 L671.14,151.42 L671.78,151.42 L672.43,151.42 L673.08,151.42 L673.73,151.42 L674.38,151.42 L675.03,151.42 L675.52,151.42 M679.73,151.42 L679.73,151.42 L680.38,151.42 L681.03,151.42 L681.68,151.42 L682.33,151.42 L682.98,151.42 L683.63,151.42 L684.28,151.42 L684.93,151.42 L685.58,151.42 L686.22,151.42 L686.87,151.42 L687.52,151.42 L688.17,151.42 L688.82,151.42 L689.38,151.42 M693.59,151.42 L693.61,151.42 L694.26,151.42 L694.91,151.42 L695.55,151.42 L696.20,151.42 L696.85,151.42 L697.50,151.42 L698.15,151.42 L698.80,151.42 L699.45,151.42 L700.10,151.42 L700.75,151.42 L701.40,151.42 L702.04,151.42 L702.69,151.42 L703.24,151.42 M707.45,151.42 L707.48,151.42 L708.13,151.42 L708.78,151.42 L709.43,151.42 L710.08,151.42 L710.72,151.42 L711.37,151.42 L712.02,151.42 L712.67,151.42 L713.32,151.42 L713.97,151.42 L714.62,151.42 L715.27,151.42 L715.92,151.42 L716.57,151.42 L717.10,151.42 M721.31,151.42 L721.35,151.42 L722.00,151.42 L722.65,151.42 L723.30,151.42 L723.95,151.42 L724.60,151.42 L725.25,151.42 L725.89,151.42 L726.54,151.42 L727.19,151.42 L727.84,151.42 L728.49,151.42 L729.14,151.42 L729.79,151.42 L730.44,151.42 L730.96,151.42 M735.17,151.42 L735.22,151.42 L735.87,151.42 L736.52,151.42 L737.17,151.42 L737.82,151.42 L738.47,151.42 L739.12,151.42 L739.77,151.42 L740.42,151.42 L741.07,151.42 L741.71,151.42 L742.36,151.42 L743.01,151.42 L743.66,151.42 L744.31,151.42 L744.82,151.42 M749.03,151.42 L749.10,151.42 L749.75,151.42 L750.39,151.42 L751.04,151.42 L751.69,151.42 L752.34,151.42 L752.99,151.42 L753.64,151.42 L754.29,151.42 L754.94,151.42 L755.59,151.42 L756.24,151.42 L756.88,151.42 L757.53,151.42 L758.18,151.42 L758.68,151.42 M762.89,151.42 L762.97,151.42 L763.62,151.42 L764.27,151.42 L764.92,151.42 L765.56,151.42 L766.21,151.42 L766.86,151.42 L767.51,151.42 L768.16,151.42 L768.81,151.42 L769.46,151.42 L770.11,151.42 L770.76,151.42 L771.41,151.42 L772.06,151.42 L772.54,151.42" stroke="#ff0000"/>
<path d="M644.3,356.60 L737.0,356.60" stroke="#ff0000"/>
<path d="M644.3,388.90 L737.0,388.90" stroke="#0000ff"/>
<path d="M644.3,421.20 L737.0,421.20" stroke="#00ff00"/>
<path d="M644.3,453.50 L737.0,453.50" stroke="#ff0000" stroke-dasharray="9.7 4.2"/>
</g>
<rect x="125.9" y="96.7" width="649.40" height="387.20" fill="none" stroke="#000" stroke-width="2.6" stroke-linejoin="miter"/>
<g font-family="'Liberation Sans', sans-serif" font-size="32.1" fill="#000" text-rendering="geometricPrecision" opacity="0.999">
<g transform="translate(450.90,58.90)" font-size="32.35"><text transform="translate(-167.87,0) scale(1,1.085)" xml:space="preserve">T</text><text transform="translate(-148.11,0) scale(1,1.0)" xml:space="preserve">rajectory at  </text><text transform="translate(28.56,0) scale(1,1.085)" xml:space="preserve">B</text><text transform="translate(50.11,0) scale(1,1.0)" xml:space="preserve">=</text><text transform="translate(68.99,0) scale(1,1.085)" xml:space="preserve">0 </text><text transform="translate(95.95,0) scale(1,1.0)" xml:space="preserve">node</text></g>
<g transform="translate(106.50,107.30)"><path d="M0,0 H-2.91 V-16.42 H-8.05 V-19.1 C-5.4,-19.2 -3.1,-19.9 -1.95,-23.05 H0 Z" transform="translate(-6.94,0)"/></g>
<g transform="translate(106.50,172.88)"><text transform="translate(-17.84,0) scale(1,1.085)" xml:space="preserve">0</text></g>
<g transform="translate(106.50,237.42)"><text transform="translate(-28.53,0) scale(1,1.085)" xml:space="preserve">-</text><path d="M0,0 H-2.91 V-16.42 H-8.05 V-19.1 C-5.4,-19.2 -3.1,-19.9 -1.95,-23.05 H0 Z" transform="translate(-6.94,0)"/></g>
<g transform="translate(106.50,301.95)"><text transform="translate(-28.53,0) scale(1,1.085)" xml:space="preserve">-2</text></g>
<g transform="translate(106.50,366.48)"><text transform="translate(-28.53,0) scale(1,1.085)" xml:space="preserve">-3</text></g>
<g transform="translate(106.50,431.02)"><text transform="translate(-28.53,0) scale(1,1.085)" xml:space="preserve">-4</text></g>
<g transform="translate(106.50,495.55)"><text transform="translate(-28.53,0) scale(1,1.085)" xml:space="preserve">-5</text></g>
<g transform="translate(130.60,527.60)"><text transform="translate(-8.92,0) scale(1,1.085)" xml:space="preserve">0</text></g>
<g transform="translate(292.95,527.60)"><text transform="translate(-8.92,0) scale(1,1.085)" xml:space="preserve">5</text></g>
<g transform="translate(455.30,527.60)"><path d="M0,0 H-2.91 V-16.42 H-8.05 V-19.1 C-5.4,-19.2 -3.1,-19.9 -1.95,-23.05 H0 Z" transform="translate(-6.94,0)"/><text transform="translate(0.00,0) scale(1,1.085)" xml:space="preserve">0</text></g>
<g transform="translate(617.65,527.60)"><path d="M0,0 H-2.91 V-16.42 H-8.05 V-19.1 C-5.4,-19.2 -3.1,-19.9 -1.95,-23.05 H0 Z" transform="translate(-6.94,0)"/><text transform="translate(0.00,0) scale(1,1.085)" xml:space="preserve">5</text></g>
<g transform="translate(780.00,527.60)"><text transform="translate(-17.84,0) scale(1,1.085)" xml:space="preserve">20</text></g>
<g transform="translate(450.20,574.90)"><text transform="translate(-102.52,0) scale(1,1.0)" xml:space="preserve">t (laser phase)</text></g>
<g transform="translate(43.00,290.90) rotate(-90)"><text transform="translate(-92.65,0) scale(1,1.0)" xml:space="preserve">x, y, </text><text transform="translate(-24.79,0) scale(1,1.0)" xml:space="preserve">z, log(</text><text transform="translate(62.57,0) scale(1.133,1.0)" font-family="'Liberation Serif', serif" font-size="34.6">η</text><text transform="translate(81.97,0) scale(1,1.0)" xml:space="preserve">)</text></g>
<g transform="translate(624.50,367.40)"><text transform="translate(-16.05,0) scale(1,1.0)" xml:space="preserve">x</text></g>
<g transform="translate(624.50,399.70)"><text transform="translate(-16.05,0) scale(1,1.0)" xml:space="preserve">y</text></g>
<g transform="translate(624.50,432.00)"><text transform="translate(-16.05,0) scale(1,1.0)" xml:space="preserve">z</text></g>
<g transform="translate(624.50,464.30)"><text transform="translate(-83.59,0) scale(1,1.0)" xml:space="preserve">log(</text><text transform="translate(-30.09,0) scale(1.133,1.0)" font-family="'Liberation Serif', serif" font-size="34.6">η</text><text transform="translate(-10.69,0) scale(1,1.0)" xml:space="preserve">)</text></g>
</g>
</svg>
</body></html>
